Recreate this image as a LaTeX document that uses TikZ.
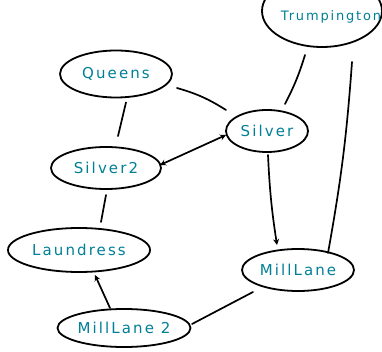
\documentclass[tikz,border=0pt]{standalone}
\usepackage{fontspec}
\usetikzlibrary{shapes.geometric,arrows.meta}
\newfontfamily\handfont[LetterSpace=14]{DejaVu Sans}
\definecolor{inkteal}{RGB}{0,128,150}
\tikzset{
  place/.style={draw=black, line width=1.8pt, ellipse, inner sep=0pt,
     text=inkteal, font=\handfont\fontsize{15}{15}\selectfont},
  link/.style={line width=1.7pt, line cap=round},
  tip/.style={-{Stealth[length=6pt,width=6pt]}},
  bothtip/.style={{Stealth[length=6pt,width=6pt]}-{Stealth[length=6pt,width=6pt]}}
}
\begin{document}
\begin{tikzpicture}[x=1pt,y=-1pt]
\clip (0,0) rectangle (382,352);
\fill[white] (0,0) rectangle (382,352);
\node[place, minimum width=120pt, minimum height=72pt] (trump) at (322,11) {};
\node[text=inkteal, font=\handfont\fontsize{13}{13}\selectfont, inner sep=0pt] (trumptext) at (331,17) {Trumpington};
\node[place, minimum width=112pt, minimum height=47pt] (queens) at (116,74) {Queens};
\node[place, minimum width=82pt, minimum height=42pt] (silver) at (267,131) {Silver};
\node[place, minimum width=110pt, minimum height=42pt] (silver2) at (106,168) {Silver2};
\node[place, minimum width=142pt, minimum height=44pt] (laundress) at (79,250) {Laundress};
\node[place, minimum width=112pt, minimum height=42pt] (milllane) at (298,270) {MillLane};
\node[place, minimum width=133pt, minimum height=38pt] (milllane2) at (124,328) {MillLane 2};

\path (queens.south) ++(10,4) coordinate (q1) (silver2.north) ++(12,-10) coordinate (s21);
\draw[link] (q1) -- (s21);
\path (queens) ++(61,14) coordinate (q2) (silver) ++(-41,-21) coordinate (s1);
\draw[link] (q2) to[bend left=8] (s1);
\path (silver2) ++(54,-3) coordinate (s22) (silver) ++(-41,4) coordinate (s3);
\draw[link, bothtip] (s22) -- (s3);
\path (silver) ++(18,-27) coordinate (s4) (trump) ++(-17,44) coordinate (t1);
\draw[link] (s4) to[bend right=5] (t1);
\path (trump) ++(30,51) coordinate (t2) (milllane) ++(30,-17) coordinate (m1);
\draw[link] (t2) to[bend left=3] (m1);
\path (silver) ++(1,24) coordinate (s5) (milllane) ++(-21,-25) coordinate (m2);
\draw[link, tip] (s5) to[bend right=3] (m2);
\path (milllane) ++(-45,22) coordinate (m3) (milllane2) ++(68,-4) coordinate (m21);
\draw[link] (m3) -- (m21);
\path (milllane2) ++(-14,-20) coordinate (m22) (laundress) ++(16,25) coordinate (l1);
\draw[link, tip] (m22) -- (l1);
\path (silver2) ++(0,27) coordinate (s23) (laundress) ++(22,-28) coordinate (l2);
\draw[link] (s23) -- (l2);
\end{tikzpicture}
\end{document}
